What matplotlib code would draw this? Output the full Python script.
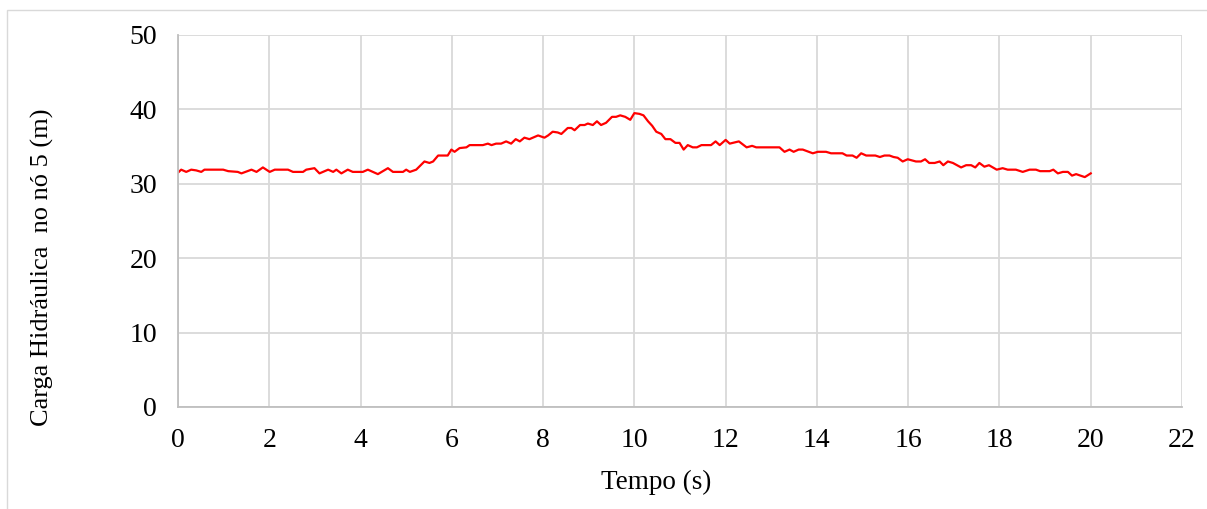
import matplotlib.pyplot as plt
from matplotlib.patches import Rectangle

plt.rcParams['font.family'] = ['Liberation Serif', 'DejaVu Serif']
plt.rcParams['font.size'] = 19

# Hydraulic head at node 5 over time
tempo = [0.00, 0.07, 0.18, 0.29, 0.40, 0.51, 0.58, 0.99, 1.10, 1.31, 1.39, 1.61,
         1.72, 1.86, 2.01, 2.12, 2.41, 2.52, 2.74, 2.81, 2.99, 3.10, 3.29, 3.40,
         3.47, 3.58, 3.72, 3.83, 4.05, 4.16, 4.38, 4.60, 4.71, 4.93, 5.00, 5.08,
         5.22, 5.40, 5.51, 5.59, 5.70, 5.91, 5.99, 6.06, 6.17, 6.32, 6.39, 6.68,
         6.79, 6.87, 6.97, 7.08, 7.19, 7.30, 7.40, 7.49, 7.59, 7.70, 7.89, 8.03,
         8.11, 8.21, 8.32, 8.40, 8.54, 8.62, 8.69, 8.81, 8.91, 8.98, 9.09, 9.18,
         9.27, 9.38, 9.51, 9.60, 9.69, 9.80, 9.91, 10.00, 10.11, 10.20, 10.30,
         10.39, 10.48, 10.59, 10.68, 10.79, 10.90, 10.99, 11.08, 11.17, 11.28,
         11.37, 11.47, 11.68, 11.78, 11.87, 12.00, 12.09, 12.29, 12.46, 12.58,
         12.67, 13.18, 13.29, 13.40, 13.49, 13.60, 13.69, 13.91, 14.02, 14.20,
         14.31, 14.56, 14.65, 14.78, 14.87, 14.97, 15.08, 15.28, 15.38, 15.48,
         15.59, 15.68, 15.77, 15.88, 15.99, 16.17, 16.28, 16.37, 16.46, 16.58,
         16.69, 16.77, 16.87, 16.98, 17.16, 17.27, 17.38, 17.47, 17.56, 17.67,
         17.77, 17.94, 18.07, 18.18, 18.36, 18.51, 18.66, 18.80, 18.89, 19.10,
         19.18, 19.28, 19.39, 19.50, 19.59, 19.68, 19.87, 20.00]
carga = [31.5, 31.9, 31.6, 31.9, 31.8, 31.6, 31.9, 31.9, 31.7, 31.6, 31.4, 31.9,
         31.6, 32.2, 31.6, 31.9, 31.9, 31.6, 31.6, 31.9, 32.1, 31.4, 31.9, 31.6,
         31.9, 31.4, 31.9, 31.6, 31.6, 31.9, 31.3, 32.1, 31.6, 31.6, 31.9, 31.6,
         31.9, 33.0, 32.8, 33.0, 33.8, 33.8, 34.6, 34.3, 34.8, 34.9, 35.2, 35.2,
         35.4, 35.2, 35.4, 35.4, 35.7, 35.4, 36.0, 35.7, 36.2, 36.0, 36.5, 36.2,
         36.5, 37.0, 36.9, 36.7, 37.5, 37.5, 37.2, 37.9, 37.9, 38.1, 37.9, 38.4,
         37.9, 38.2, 39.0, 39.0, 39.2, 39.0, 38.6, 39.5, 39.4, 39.2, 38.4,
         37.8, 37.0, 36.7, 36.0, 36.0, 35.5, 35.5, 34.6, 35.2, 34.9,
         34.9, 35.2, 35.2, 35.7, 35.2, 35.9, 35.4, 35.7, 34.9, 35.1,
         34.9, 34.9, 34.3, 34.6, 34.3, 34.6, 34.6, 34.1, 34.3, 34.3,
         34.1, 34.1, 33.8, 33.8, 33.5, 34.1, 33.8, 33.8, 33.6, 33.8,
         33.8, 33.6, 33.5, 33.0, 33.3, 33.0, 33.0, 33.3, 32.8, 32.8,
         33.0, 32.5, 33.0, 32.8, 32.2, 32.5, 32.5, 32.2, 32.8, 32.3,
         32.5, 31.9, 32.1, 31.9, 31.9, 31.6, 31.9, 31.9, 31.7, 31.7,
         31.9, 31.4, 31.6, 31.6, 31.1, 31.3, 30.9, 31.4]

x_ticks = list(range(0, 23, 2))
y_ticks = list(range(0, 51, 10))

fig = plt.figure(figsize=(12.07, 5.09), dpi=100)
ax = fig.add_axes([178 / 1207, 1 - 407 / 509, 1004 / 1207, 372 / 509])

# outer chart frame
fig.patches.append(Rectangle((7 / 1207, -0.1), 1.2, 1 - 10 / 509 + 0.1,
                             transform=fig.transFigure, fill=False,
                             edgecolor='#d9d9d9', linewidth=1))

ax.plot(tempo, carga, color='#ff0000', linewidth=1.6)

ax.set_xlim(0, 22)
ax.set_ylim(0, 50)
ax.set_xticks(x_ticks)
ax.set_yticks(y_ticks)
ax.grid(True, color='#d9d9d9', linewidth=1.3)
ax.set_axisbelow(True)
ax.tick_params(length=0, labelsize=20)
ax.tick_params(axis='y', pad=15)
ax.tick_params(axis='x', pad=15)

for side in ['top', 'right']:
    ax.spines[side].set_visible(False)
for side in ['left', 'bottom']:
    ax.spines[side].set_color('#bfbfbf')
    ax.spines[side].set_linewidth(1.3)

ax.set_xlabel('Tempo (s)', fontsize=19.5)
ax.xaxis.set_label_coords(0.476, -0.204)
ax.xaxis.label.set_va('center')
ax.set_ylabel('Carga Hidráulica  no nó 5 (m)', fontsize=19)
ax.yaxis.set_label_coords(-0.135, 0.376)
ax.yaxis.label.set_va('center')

fig.savefig('out.png', dpi=100)
